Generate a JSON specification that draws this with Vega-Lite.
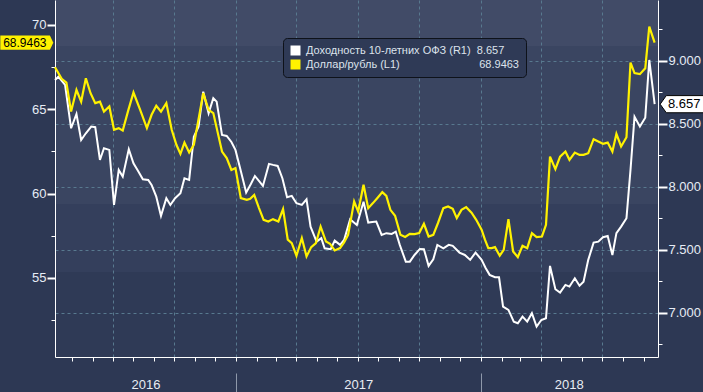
{
  "$schema": "https://vega.github.io/schema/vega-lite/v6.json",
  "width": 603,
  "height": 357,
  "autosize": "none",
  "padding": {"left": 55, "top": 0, "right": 45, "bottom": 35},
  "background": "#2d3854",
  "config": {
    "font": "Liberation Sans",
    "view": {
      "stroke": null,
      "fill": {
        "gradient": "linear", "x1": 0, "y1": 0, "x2": 0, "y2": 1,
        "stops": [
          {"offset": 0, "color": "#414b67"},
          {"offset": 0.129, "color": "#414b67"},
          {"offset": 0.129, "color": "#3a4561"},
          {"offset": 0.571, "color": "#3a4561"},
          {"offset": 0.571, "color": "#343f5c"},
          {"offset": 0.762, "color": "#343f5c"},
          {"offset": 0.762, "color": "#2f3a56"},
          {"offset": 1, "color": "#2f3a56"}
        ]
      }
    },
    "axis": {"labelFont": "Liberation Sans", "domainColor": "#ffffff", "tickColor": "#ffffff", "labelColor": "#e6ecf5", "title": null}
  },
  "datasets": {
    "ofz": [
      {"d": "2016-04-06", "v": 8.849}, {"d": "2016-04-11", "v": 8.875}, {"d": "2016-04-21", "v": 8.81}, {"d": "2016-04-30", "v": 8.466},
      {"d": "2016-05-08", "v": 8.579}, {"d": "2016-05-15", "v": 8.373}, {"d": "2016-05-22", "v": 8.426}, {"d": "2016-05-30", "v": 8.479},
      {"d": "2016-06-05", "v": 8.474}, {"d": "2016-06-12", "v": 8.214}, {"d": "2016-06-18", "v": 8.307}, {"d": "2016-06-26", "v": 8.294},
      {"d": "2016-07-03", "v": 7.857}, {"d": "2016-07-10", "v": 8.135}, {"d": "2016-07-16", "v": 8.082}, {"d": "2016-07-25", "v": 8.299},
      {"d": "2016-08-01", "v": 8.188}, {"d": "2016-08-07", "v": 8.135}, {"d": "2016-08-15", "v": 8.061}, {"d": "2016-08-23", "v": 8.056},
      {"d": "2016-08-28", "v": 8.016}, {"d": "2016-09-04", "v": 7.923}, {"d": "2016-09-11", "v": 7.77}, {"d": "2016-09-19", "v": 7.91},
      {"d": "2016-09-25", "v": 7.857}, {"d": "2016-10-02", "v": 7.91}, {"d": "2016-10-10", "v": 7.95}, {"d": "2016-10-16", "v": 8.069},
      {"d": "2016-10-23", "v": 8.056}, {"d": "2016-10-30", "v": 8.399}, {"d": "2016-11-06", "v": 8.479}, {"d": "2016-11-13", "v": 8.756},
      {"d": "2016-11-21", "v": 8.585}, {"d": "2016-11-28", "v": 8.704}, {"d": "2016-12-03", "v": 8.677}, {"d": "2016-12-11", "v": 8.413},
      {"d": "2016-12-18", "v": 8.405}, {"d": "2016-12-25", "v": 8.357}, {"d": "2016-12-31", "v": 8.294}, {"d": "2017-01-07", "v": 8.148},
      {"d": "2017-01-16", "v": 7.955}, {"d": "2017-01-23", "v": 8.024}, {"d": "2017-01-29", "v": 8.087}, {"d": "2017-02-04", "v": 8.048},
      {"d": "2017-02-10", "v": 8.008}, {"d": "2017-02-19", "v": 8.183}, {"d": "2017-02-25", "v": 8.175}, {"d": "2017-03-04", "v": 8.167},
      {"d": "2017-03-11", "v": 8.069}, {"d": "2017-03-18", "v": 7.918}, {"d": "2017-03-25", "v": 7.929}, {"d": "2017-04-01", "v": 7.871},
      {"d": "2017-04-09", "v": 7.857}, {"d": "2017-04-16", "v": 7.902}, {"d": "2017-04-22", "v": 7.685}, {"d": "2017-05-01", "v": 7.566},
      {"d": "2017-05-08", "v": 7.593}, {"d": "2017-05-13", "v": 7.513}, {"d": "2017-05-22", "v": 7.506}, {"d": "2017-05-28", "v": 7.574},
      {"d": "2017-06-05", "v": 7.54}, {"d": "2017-06-11", "v": 7.579}, {"d": "2017-06-20", "v": 7.744}, {"d": "2017-06-30", "v": 7.698},
      {"d": "2017-07-10", "v": 7.883}, {"d": "2017-07-17", "v": 7.717}, {"d": "2017-07-23", "v": 7.722}, {"d": "2017-07-29", "v": 7.725},
      {"d": "2017-08-06", "v": 7.619}, {"d": "2017-08-13", "v": 7.633}, {"d": "2017-08-21", "v": 7.627}, {"d": "2017-08-27", "v": 7.645},
      {"d": "2017-09-02", "v": 7.54}, {"d": "2017-09-11", "v": 7.407}, {"d": "2017-09-17", "v": 7.407}, {"d": "2017-09-24", "v": 7.46},
      {"d": "2017-10-02", "v": 7.508}, {"d": "2017-10-08", "v": 7.506}, {"d": "2017-10-15", "v": 7.373}, {"d": "2017-10-22", "v": 7.426},
      {"d": "2017-10-28", "v": 7.54}, {"d": "2017-11-06", "v": 7.513}, {"d": "2017-11-14", "v": 7.54}, {"d": "2017-11-20", "v": 7.532},
      {"d": "2017-11-30", "v": 7.479}, {"d": "2017-12-08", "v": 7.46}, {"d": "2017-12-16", "v": 7.421}, {"d": "2017-12-24", "v": 7.479},
      {"d": "2018-01-02", "v": 7.421}, {"d": "2018-01-08", "v": 7.357}, {"d": "2018-01-14", "v": 7.302}, {"d": "2018-01-22", "v": 7.283},
      {"d": "2018-01-28", "v": 7.283}, {"d": "2018-02-03", "v": 7.05}, {"d": "2018-02-11", "v": 7.024}, {"d": "2018-02-19", "v": 6.931},
      {"d": "2018-02-25", "v": 6.918}, {"d": "2018-03-04", "v": 6.971}, {"d": "2018-03-11", "v": 6.931}, {"d": "2018-03-18", "v": 6.998},
      {"d": "2018-03-25", "v": 6.891}, {"d": "2018-04-01", "v": 6.944}, {"d": "2018-04-08", "v": 6.958}, {"d": "2018-04-14", "v": 7.373},
      {"d": "2018-04-22", "v": 7.188}, {"d": "2018-04-29", "v": 7.161}, {"d": "2018-05-07", "v": 7.222}, {"d": "2018-05-13", "v": 7.209},
      {"d": "2018-05-21", "v": 7.275}, {"d": "2018-05-28", "v": 7.216}, {"d": "2018-06-03", "v": 7.248}, {"d": "2018-06-10", "v": 7.421},
      {"d": "2018-06-18", "v": 7.558}, {"d": "2018-06-25", "v": 7.566}, {"d": "2018-07-02", "v": 7.601}, {"d": "2018-07-09", "v": 7.611},
      {"d": "2018-07-16", "v": 7.46}, {"d": "2018-07-22", "v": 7.633}, {"d": "2018-07-29", "v": 7.685}, {"d": "2018-08-06", "v": 7.752},
      {"d": "2018-08-12", "v": 8.135}, {"d": "2018-08-18", "v": 8.558}, {"d": "2018-08-26", "v": 8.479}, {"d": "2018-09-03", "v": 8.55},
      {"d": "2018-09-09", "v": 9.008}, {"d": "2018-09-17", "v": 8.657}
    ],
    "usd": [
      {"d": "2016-04-06", "v": 67.49}, {"d": "2016-04-16", "v": 66.8}, {"d": "2016-04-23", "v": 66.58}, {"d": "2016-04-30", "v": 64.86},
      {"d": "2016-05-08", "v": 66.15}, {"d": "2016-05-15", "v": 65.45}, {"d": "2016-05-22", "v": 66.84}, {"d": "2016-05-29", "v": 65.95},
      {"d": "2016-06-05", "v": 65.36}, {"d": "2016-06-12", "v": 65.45}, {"d": "2016-06-18", "v": 64.86}, {"d": "2016-06-26", "v": 65.16},
      {"d": "2016-07-03", "v": 63.78}, {"d": "2016-07-10", "v": 63.88}, {"d": "2016-07-16", "v": 63.73}, {"d": "2016-07-24", "v": 64.9},
      {"d": "2016-08-01", "v": 65.99}, {"d": "2016-08-11", "v": 64.96}, {"d": "2016-08-21", "v": 63.88}, {"d": "2016-08-28", "v": 64.67},
      {"d": "2016-09-04", "v": 65.2}, {"d": "2016-09-11", "v": 64.86}, {"d": "2016-09-19", "v": 65.36}, {"d": "2016-09-27", "v": 63.78},
      {"d": "2016-10-04", "v": 62.89}, {"d": "2016-10-10", "v": 62.35}, {"d": "2016-10-16", "v": 63.02}, {"d": "2016-10-23", "v": 62.43},
      {"d": "2016-10-30", "v": 62.89}, {"d": "2016-11-04", "v": 63.97}, {"d": "2016-11-13", "v": 65.95}, {"d": "2016-11-21", "v": 64.96},
      {"d": "2016-11-28", "v": 64.77}, {"d": "2016-12-11", "v": 62.49}, {"d": "2016-12-18", "v": 62.1}, {"d": "2016-12-25", "v": 61.4},
      {"d": "2016-12-31", "v": 61.51}, {"d": "2017-01-08", "v": 59.73}, {"d": "2017-01-17", "v": 59.63}, {"d": "2017-01-22", "v": 59.69},
      {"d": "2017-01-28", "v": 59.92}, {"d": "2017-02-04", "v": 59.15}, {"d": "2017-02-11", "v": 58.44}, {"d": "2017-02-18", "v": 58.34},
      {"d": "2017-02-25", "v": 58.48}, {"d": "2017-03-05", "v": 58.34}, {"d": "2017-03-12", "v": 59.08}, {"d": "2017-03-19", "v": 57.26},
      {"d": "2017-03-25", "v": 57.06}, {"d": "2017-04-01", "v": 56.31}, {"d": "2017-04-09", "v": 57.36}, {"d": "2017-04-16", "v": 56.27},
      {"d": "2017-04-23", "v": 56.82}, {"d": "2017-04-30", "v": 57.06}, {"d": "2017-05-07", "v": 58.04}, {"d": "2017-05-15", "v": 57.15},
      {"d": "2017-05-21", "v": 57.02}, {"d": "2017-05-28", "v": 56.62}, {"d": "2017-06-05", "v": 56.76}, {"d": "2017-06-11", "v": 57.1},
      {"d": "2017-06-17", "v": 57.55}, {"d": "2017-06-26", "v": 59.53}, {"d": "2017-07-02", "v": 58.93}, {"d": "2017-07-10", "v": 60.52},
      {"d": "2017-07-17", "v": 59.13}, {"d": "2017-07-24", "v": 59.43}, {"d": "2017-07-31", "v": 59.75}, {"d": "2017-08-07", "v": 60.08},
      {"d": "2017-08-13", "v": 59.86}, {"d": "2017-08-19", "v": 59.03}, {"d": "2017-08-26", "v": 58.68}, {"d": "2017-09-03", "v": 57.55},
      {"d": "2017-09-10", "v": 57.42}, {"d": "2017-09-17", "v": 57.61}, {"d": "2017-09-24", "v": 57.59}, {"d": "2017-10-01", "v": 57.65},
      {"d": "2017-10-08", "v": 58.2}, {"d": "2017-10-15", "v": 57.45}, {"d": "2017-10-22", "v": 57.55}, {"d": "2017-10-29", "v": 58.25},
      {"d": "2017-11-06", "v": 59.13}, {"d": "2017-11-13", "v": 59.23}, {"d": "2017-11-20", "v": 59.09}, {"d": "2017-11-26", "v": 58.54},
      {"d": "2017-12-03", "v": 59.03}, {"d": "2017-12-10", "v": 59.19}, {"d": "2017-12-18", "v": 58.86}, {"d": "2017-12-25", "v": 58.44},
      {"d": "2018-01-02", "v": 57.85}, {"d": "2018-01-07", "v": 57.26}, {"d": "2018-01-12", "v": 56.76}, {"d": "2018-01-17", "v": 56.76},
      {"d": "2018-01-22", "v": 56.82}, {"d": "2018-01-29", "v": 56.31}, {"d": "2018-02-04", "v": 56.66}, {"d": "2018-02-11", "v": 58.48},
      {"d": "2018-02-18", "v": 56.56}, {"d": "2018-02-25", "v": 56.23}, {"d": "2018-03-04", "v": 56.9}, {"d": "2018-03-11", "v": 56.76},
      {"d": "2018-03-18", "v": 57.65}, {"d": "2018-03-25", "v": 57.42}, {"d": "2018-04-02", "v": 57.45}, {"d": "2018-04-08", "v": 58.14},
      {"d": "2018-04-14", "v": 62.19}, {"d": "2018-04-22", "v": 61.45}, {"d": "2018-04-29", "v": 62.19}, {"d": "2018-05-07", "v": 62.49},
      {"d": "2018-05-13", "v": 62.0}, {"d": "2018-05-21", "v": 62.43}, {"d": "2018-05-28", "v": 62.29}, {"d": "2018-06-03", "v": 62.29},
      {"d": "2018-06-10", "v": 62.39}, {"d": "2018-06-18", "v": 63.22}, {"d": "2018-06-25", "v": 63.08}, {"d": "2018-07-02", "v": 62.95},
      {"d": "2018-07-09", "v": 63.02}, {"d": "2018-07-16", "v": 62.49}, {"d": "2018-07-22", "v": 63.54}, {"d": "2018-07-29", "v": 62.79},
      {"d": "2018-08-06", "v": 63.34}, {"d": "2018-08-12", "v": 67.77}, {"d": "2018-08-18", "v": 67.14}, {"d": "2018-08-26", "v": 67.08},
      {"d": "2018-09-03", "v": 67.43}, {"d": "2018-09-09", "v": 69.9}, {"d": "2018-09-17", "v": 68.9463}
    ]
  },
  "layer": [
    {
      "data": {"values": [{"v": 8.657}]},
      "mark": {"type": "point", "opacity": 0, "size": 1},
      "encoding": {
        "x": {
          "datum": {"year": 2018, "month": 10, "date": 28}, "type": "temporal",
          "scale": {"domain": [{"year": 2016, "month": 4, "date": 6}, {"year": 2018, "month": 9, "date": 22}]},
          "axis": {
            "orient": "bottom", "labels": false, "ticks": false, "domain": false,
            "values": [
              {"year": 2016, "month": 7, "date": 1}, {"year": 2016, "month": 10, "date": 1},
              {"year": 2017, "month": 1, "date": 1}, {"year": 2017, "month": 4, "date": 1}, {"year": 2017, "month": 7, "date": 1}, {"year": 2017, "month": 10, "date": 1},
              {"year": 2018, "month": 1, "date": 1}, {"year": 2018, "month": 4, "date": 1}, {"year": 2018, "month": 7, "date": 1}
            ],
            "grid": true, "gridColor": "#58798f", "gridDash": [3, 3], "gridWidth": 1
          }
        },
        "y": {
          "field": "v", "type": "quantitative",
          "scale": {"domain": [6.65, 9.484], "nice": false, "zero": false},
          "axis": {
            "orient": "right", "labels": false, "domain": false,
            "values": [6.75, 7.25, 7.75, 8.25, 8.75, 9.25],
            "tickSize": 4, "tickWidth": 1, "grid": false
          }
        }
      }
    },
    {
      "data": {"name": "ofz"},
      "mark": {"type": "line", "color": "#ffffff", "strokeWidth": 2},
      "encoding": {
        "x": {
          "field": "d", "type": "temporal",
          "scale": {"domain": [{"year": 2016, "month": 4, "date": 6}, {"year": 2018, "month": 9, "date": 22}]},
          "axis": {
            "orient": "bottom", "labels": false, "grid": false,
            "values": [
              {"year": 2016, "month": 5, "date": 1}, {"year": 2016, "month": 6, "date": 1}, {"year": 2016, "month": 7, "date": 1}, {"year": 2016, "month": 8, "date": 1},
              {"year": 2016, "month": 9, "date": 1}, {"year": 2016, "month": 10, "date": 1}, {"year": 2016, "month": 11, "date": 1}, {"year": 2016, "month": 12, "date": 1},
              {"year": 2017, "month": 1, "date": 1}, {"year": 2017, "month": 2, "date": 1}, {"year": 2017, "month": 3, "date": 1}, {"year": 2017, "month": 4, "date": 1},
              {"year": 2017, "month": 5, "date": 1}, {"year": 2017, "month": 6, "date": 1}, {"year": 2017, "month": 7, "date": 1}, {"year": 2017, "month": 8, "date": 1},
              {"year": 2017, "month": 9, "date": 1}, {"year": 2017, "month": 10, "date": 1}, {"year": 2017, "month": 11, "date": 1}, {"year": 2017, "month": 12, "date": 1},
              {"year": 2018, "month": 1, "date": 1}, {"year": 2018, "month": 2, "date": 1}, {"year": 2018, "month": 3, "date": 1}, {"year": 2018, "month": 4, "date": 1},
              {"year": 2018, "month": 5, "date": 1}, {"year": 2018, "month": 6, "date": 1}, {"year": 2018, "month": 7, "date": 1}, {"year": 2018, "month": 8, "date": 1},
              {"year": 2018, "month": 9, "date": 1}
            ],
            "tickSize": 4, "tickWidth": 1, "domainWidth": 1
          }
        },
        "y": {
          "field": "v", "type": "quantitative",
          "scale": {"domain": [6.65, 9.484], "nice": false, "zero": false},
          "axis": {
            "orient": "right",
            "values": [7, 7.5, 8, 8.5, 9],
            "format": ".3f",
            "tickSize": 9, "tickWidth": 2,
            "labelFontSize": 13, "labelPadding": 1, "domainWidth": 1,
            "grid": true, "gridColor": "#58798f", "gridDash": [3, 3], "gridWidth": 1
          }
        },
        "color": {
          "datum": "Доходность 10-летних ОФЗ (R1)\u00a0\u00a08.657",
          "scale": {
            "domain": ["Доходность 10-летних ОФЗ (R1)\u00a0\u00a08.657", "Доллар/рубль (L1)\u00a0\u00a0\u00a0\u00a0\u00a0\u00a0\u00a0\u00a0\u00a0\u00a0\u00a0\u00a0\u00a0\u00a0\u00a0\u00a0\u00a0\u00a0\u00a0\u00a0\u00a0\u00a0\u00a0\u00a0\u00a0\u00a068.9463"],
            "range": ["#ffffff", "#fff200"]
          },
          "legend": {
            "title": null, "orient": "none", "legendX": 228, "legendY": 38,
            "fillColor": "#2f3a56", "strokeColor": "#0e121a", "cornerRadius": 4, "padding": 7,
            "symbolType": "square", "symbolSize": 25, "symbolStrokeWidth": 5,
            "labelColor": "#dde3ec", "labelFontSize": 11, "labelFont": "Liberation Sans", "labelLimit": 400, "labelOffset": 5,
            "rowPadding": 2, "clipHeight": 11
          }
        }
      }
    },
    {
      "data": {"values": [{"v": 68.9463}]},
      "mark": {"type": "point", "opacity": 0, "size": 1},
      "encoding": {
        "x": {
          "datum": {"year": 2016, "month": 2, "date": 24}, "type": "temporal",
          "scale": {"domain": [{"year": 2016, "month": 4, "date": 6}, {"year": 2018, "month": 9, "date": 22}]},
          "axis": {
            "orient": "bottom", "domain": false, "grid": false, "offset": 16,
            "values": [{"year": 2017, "month": 1, "date": 1}, {"year": 2018, "month": 1, "date": 1}],
            "labels": false, "tickSize": 19, "tickColor": "#8e98aa", "tickWidth": 1
          }
        },
        "y": {
          "field": "v", "type": "quantitative",
          "scale": {"domain": [50.3, 71.48], "nice": false, "zero": false},
          "axis": {
            "orient": "left", "labels": false, "domain": false, "grid": false,
            "values": [52.5, 57.5, 62.5, 67.5],
            "tickSize": 4, "tickWidth": 1
          }
        }
      }
    },
    {
      "data": {"name": "usd"},
      "mark": {"type": "line", "color": "#fff200", "strokeWidth": 2.2},
      "encoding": {
        "x": {
          "field": "d", "type": "temporal",
          "scale": {"domain": [{"year": 2016, "month": 4, "date": 6}, {"year": 2018, "month": 9, "date": 22}]},
          "axis": {
            "orient": "bottom", "domain": false, "grid": false, "ticks": false, "offset": 16,
            "values": [{"year": 2016, "month": 8, "date": 19}, {"year": 2017, "month": 7, "date": 2}, {"year": 2018, "month": 5, "date": 12}],
            "format": "%Y",
            "labelPadding": 5, "labelFontSize": 13, "labelColor": "#e8ecf3", "labelOverlap": false, "labelBound": false, "labelFlush": false
          }
        },
        "y": {
          "field": "v", "type": "quantitative",
          "scale": {"domain": [50.3, 71.48], "nice": false, "zero": false},
          "axis": {
            "orient": "left",
            "values": [55, 60, 65, 70],
            "format": "d",
            "tickSize": 8, "tickWidth": 2,
            "labelFontSize": 13, "labelPadding": 1, "domainWidth": 1, "grid": false
          }
        },
        "color": {"datum": "Доллар/рубль (L1)\u00a0\u00a0\u00a0\u00a0\u00a0\u00a0\u00a0\u00a0\u00a0\u00a0\u00a0\u00a0\u00a0\u00a0\u00a0\u00a0\u00a0\u00a0\u00a0\u00a0\u00a0\u00a0\u00a0\u00a0\u00a0\u00a068.9463"}
      }
    },
    {
      "data": {"values": [{"v": 8.657}]},
      "mark": {"type": "point", "shape": "M-1,0L-0.72,-0.39L1,-0.39L1,0.39L-0.72,0.39Z", "size": 1936, "filled": true, "color": "#ffffff", "stroke": "#000000", "strokeWidth": 1, "opacity": 1},
      "encoding": {
        "x": {"datum": {"year": 2018, "month": 10, "date": 28}, "type": "temporal", "axis": null, "scale": {"domain": [{"year": 2016, "month": 4, "date": 6}, {"year": 2018, "month": 9, "date": 22}]}},
        "y": {"field": "v", "type": "quantitative", "axis": null, "scale": {"domain": [6.65, 9.484], "nice": false, "zero": false}}
      }
    },
    {
      "data": {"values": [{"v": 8.657}]},
      "mark": {"type": "text", "color": "#000000", "fontSize": 13, "align": "center", "baseline": "middle", "dx": 2, "font": "Liberation Sans"},
      "encoding": {
        "x": {"datum": {"year": 2018, "month": 10, "date": 28}, "type": "temporal", "axis": null, "scale": {"domain": [{"year": 2016, "month": 4, "date": 6}, {"year": 2018, "month": 9, "date": 22}]}},
        "y": {"field": "v", "type": "quantitative", "axis": null, "scale": {"domain": [6.65, 9.484], "nice": false, "zero": false}},
        "text": {"field": "v", "type": "quantitative", "format": ".3f"}
      }
    },
    {
      "data": {"values": [{"v": 68.9463}]},
      "mark": {"type": "point", "shape": "M-1,-0.27L0.87,-0.27L1,0L0.87,0.27L-1,0.27Z", "size": 2809, "filled": true, "color": "#fff200", "opacity": 1},
      "encoding": {
        "x": {"datum": {"year": 2016, "month": 2, "date": 24}, "type": "temporal", "axis": null, "scale": {"domain": [{"year": 2016, "month": 4, "date": 6}, {"year": 2018, "month": 9, "date": 22}]}},
        "y": {"field": "v", "type": "quantitative", "axis": null, "scale": {"domain": [50.3, 71.48], "nice": false, "zero": false}}
      }
    },
    {
      "data": {"values": [{"v": 68.9463}]},
      "mark": {"type": "text", "color": "#000000", "fontSize": 12, "align": "center", "baseline": "middle", "dx": -2, "font": "Liberation Sans"},
      "encoding": {
        "x": {"datum": {"year": 2016, "month": 2, "date": 24}, "type": "temporal", "axis": null, "scale": {"domain": [{"year": 2016, "month": 4, "date": 6}, {"year": 2018, "month": 9, "date": 22}]}},
        "y": {"field": "v", "type": "quantitative", "axis": null, "scale": {"domain": [50.3, 71.48], "nice": false, "zero": false}},
        "text": {"field": "v", "type": "quantitative", "format": ".4f"}
      }
    }
  ],
  "resolve": {"scale": {"y": "independent"}, "axis": {"x": "independent", "y": "independent"}}
}
